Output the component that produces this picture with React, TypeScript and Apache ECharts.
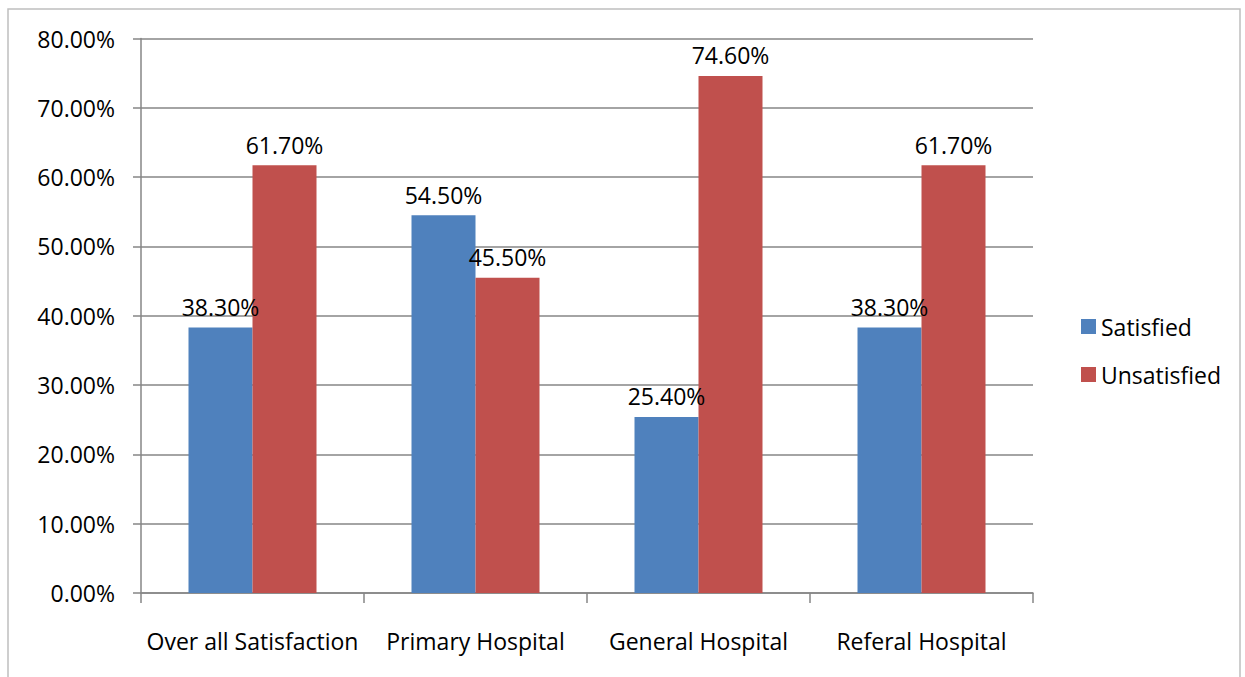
import React, { useEffect, useRef } from "react";
import * as echarts from "echarts";

const categories = ["Over all Satisfaction", "Primary Hospital", "General Hospital", "Referal Hospital"];
const satisfied = [38.3, 54.5, 25.4, 38.3];
const unsatisfied = [61.7, 45.5, 74.6, 61.7];
const seriesNames = ["Satisfied", "Unsatisfied"];

const FONT = "'Open Sans', Lato, sans-serif";
const FONT_SIZE = 23;
const GRID_COLOR = "#868686";

export default function App() {
  const ref = useRef<HTMLDivElement>(null);

  useEffect(() => {
    if (!ref.current) return;
    const chart = echarts.init(ref.current, null, { renderer: "svg" });
    const label = {
      show: true,
      position: "top" as const,
      distance: 9,
      color: "#000",
      fontSize: FONT_SIZE,
      fontFamily: FONT,
      formatter: (p: any) => `${Number(p.value).toFixed(2)}%`,
    };
    chart.setOption({
      animation: false,
      backgroundColor: "#fff",
      textStyle: { fontFamily: FONT },
      graphic: [
        {
          type: "rect",
          shape: { x: 8, y: 9, width: 1232, height: 700 },
          style: { fill: "none", stroke: "#bfbfbf", lineWidth: 1.5 },
          silent: true,
        },
      ],
      grid: { left: 141, right: 212, top: 38.5, bottom: 84 },
      legend: {
        orient: "vertical",
        left: 1076,
        top: 310,
        itemWidth: 15,
        itemHeight: 15,
        itemGap: 25,
        icon: "rect",
        textStyle: { fontSize: FONT_SIZE, color: "#000", fontFamily: FONT },
        data: seriesNames,
      },
      xAxis: {
        type: "category",
        data: categories,
        axisLine: { lineStyle: { color: GRID_COLOR, width: 1.5 } },
        axisTick: { show: true, interval: 0, length: 10, lineStyle: { color: GRID_COLOR, width: 1.5 } },
        axisLabel: { interval: 0, color: "#000", fontSize: FONT_SIZE, fontFamily: FONT, margin: 36 },
      },
      yAxis: {
        type: "value",
        min: 0,
        max: 80,
        interval: 10,
        axisLine: { show: true, lineStyle: { color: GRID_COLOR, width: 1.5 } },
        axisTick: { show: true, length: 8, lineStyle: { color: GRID_COLOR, width: 1.5 } },
        splitLine: { show: true, lineStyle: { color: GRID_COLOR, width: 1.5 } },
        axisLabel: {
          color: "#000",
          fontSize: FONT_SIZE,
          fontFamily: FONT,
          margin: 26,
          formatter: (v: number) => `${v.toFixed(2)}%`,
        },
      },
      series: [
        {
          name: seriesNames[0],
          type: "bar",
          data: satisfied,
          barGap: "0%",
          barCategoryGap: "42.6%",
          itemStyle: { color: "#4F81BD" },
          label,
        },
        {
          name: seriesNames[1],
          type: "bar",
          data: unsatisfied,
          barGap: "0%",
          barCategoryGap: "42.6%",
          itemStyle: { color: "#C0504D" },
          label,
        },
      ],
    });
    return () => chart.dispose();
  }, []);

  return (
    <div
      ref={ref}
      style={{ position: "fixed", left: 0, top: 0, width: 1245, height: 677 }}
    />
  );
}
